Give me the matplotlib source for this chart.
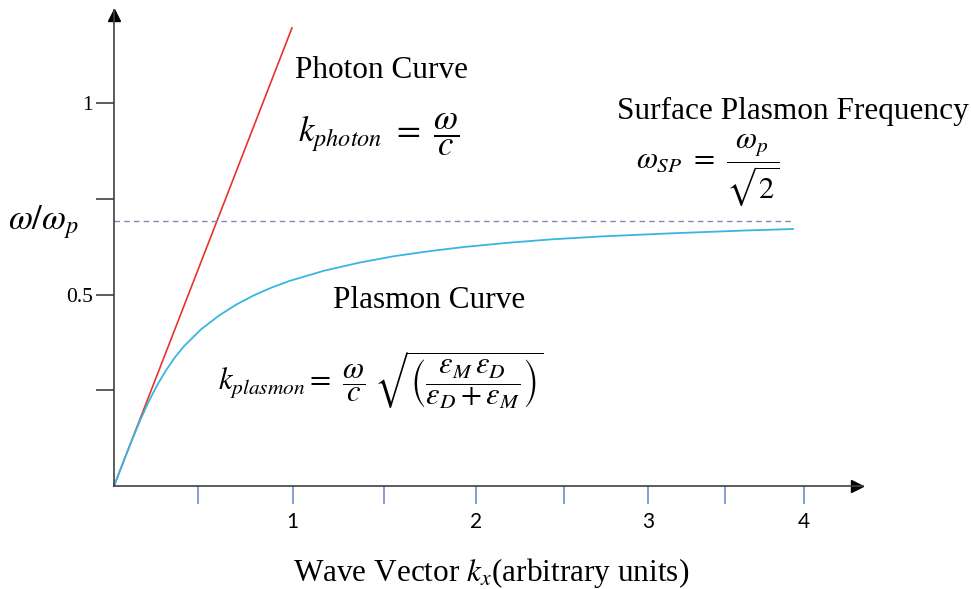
import matplotlib.pyplot as plt

plt.rcParams['font.family'] = ['Liberation Serif', 'DejaVu Serif']
plt.rcParams['mathtext.fontset'] = 'stix'

# plasmon dispersion curve (k in arbitrary units, w = omega/omega_p)
plasmon_k = [0.0, 0.05, 0.10, 0.15, 0.20, 0.25, 0.30, 0.35, 0.40, 0.50, 0.60, 0.70, 0.80,
             0.90, 1.00, 1.20, 1.40, 1.60, 1.80, 2.00, 2.25, 2.50, 2.80, 3.20, 3.60, 3.88]
plasmon_w = [0.0, 0.059, 0.117, 0.172, 0.222, 0.266, 0.304, 0.337, 0.365, 0.410, 0.445, 0.474, 0.498,
             0.518, 0.535, 0.562, 0.583, 0.600, 0.613, 0.624, 0.635, 0.644, 0.652, 0.660, 0.667, 0.671]

# light line
photon_k = [0.0, 1.017]
photon_w = [0.0, 1.196]

# surface plasmon frequency level
sp_level = 0.692
sp_k_end = 3.88

x_tick_pos = [0.48, 1.02, 1.54, 2.07, 2.57, 3.05, 3.49, 3.94]
x_tick_lbl = ['', '1', '', '2', '', '3', '', '4']
y_tick_pos = [0.25, 0.5, 0.75, 1.0]
y_tick_lbl = ['', '0.5', '', '1']

W, H = 971, 589
fig = plt.figure(figsize=(W / 100, H / 100), dpi=100)
ax = fig.add_axes([114 / W, 1 - 486 / H, 749 / W, 476 / H])
ax.set_xlim(0, 749 / 175)
ax.set_ylim(0, 476 / 383)

axis_col = '#404040'
for s in ['top', 'right']:
    ax.spines[s].set_visible(False)
for s in ['left', 'bottom']:
    ax.spines[s].set_color(axis_col)
    ax.spines[s].set_linewidth(1.2)

# arrow heads
ax.plot(0.992, 0, '>', color='black', ms=8, transform=ax.transAxes, clip_on=False)
ax.plot(0, 0.99, '^', color='black', ms=8, transform=ax.transAxes, clip_on=False)

ax.plot(photon_k, photon_w, color='#E8332E', lw=1.2, clip_on=False)
ax.plot(plasmon_k, plasmon_w, color='#38B6E2', lw=1.3)
ax.plot([0, sp_k_end], [sp_level, sp_level], color='#7F8CAE', lw=1.0, ls=(0, (4, 3)))

ax.set_xticks(x_tick_pos)
ax.set_xticklabels(x_tick_lbl, fontfamily='Lato', fontsize=15)
ax.tick_params(axis='x', direction='out', length=13, width=1.2, color='#6F8DC8', pad=6)
ax.set_yticks(y_tick_pos)
ax.set_yticklabels(y_tick_lbl, fontsize=15.5)
ax.tick_params(axis='y', direction='out', length=13, width=1.2, color=axis_col, pad=2)

def ftxt(px, py, s, size, **kw):
    fig.text(px / W, 1 - py / H, s, fontsize=size, ha='left', va='center', **kw)

ftxt(295, 70, 'Photon Curve', 22.5)
ftxt(298, 135, r'$k_{photon}\ =\ \dfrac{\omega}{c}$', 25)
ftxt(617, 111, 'Surface Plasmon Frequency', 22.5)
ftxt(636, 170, r'$\omega_{SP}\ =\ \dfrac{\omega_p}{\sqrt{2}}$', 22)
ftxt(333, 300, 'Plasmon Curve', 22.5)
ftxt(218, 380, r'$k_{plasmon} =\ \dfrac{\omega}{c}\ \sqrt{\left(\dfrac{\varepsilon_M\,\varepsilon_D}{\varepsilon_D + \varepsilon_M}\right)}$', 22)
ftxt(8, 222, r'$\omega/\omega_p$', 25)
ftxt(293, 573, r'Wave Vector $k_x$(arbitrary units)', 22.5)

fig.savefig('out.png', dpi=100)
